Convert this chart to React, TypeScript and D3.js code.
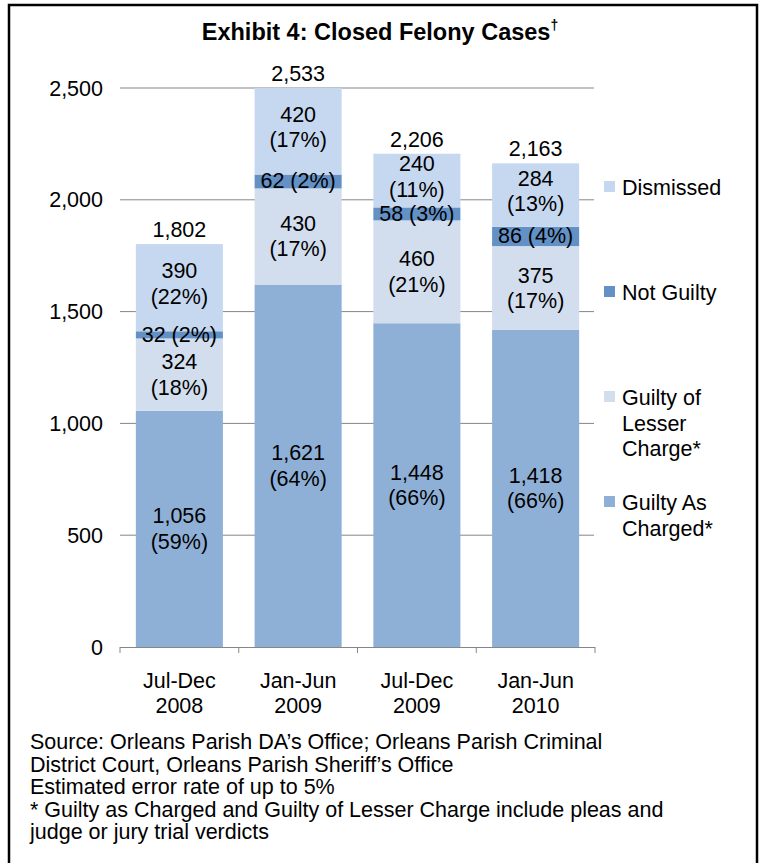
import React from "react";
import * as d3 from "d3";

const categories = ["Jul-Dec\n2008", "Jan-Jun\n2009", "Jul-Dec\n2009", "Jan-Jun\n2010"];
const seriesNames = ["Guilty As Charged*", "Guilty of Lesser Charge*", "Not Guilty", "Dismissed"];
const guiltyAsCharged = [1056, 1621, 1448, 1418];
const guiltyLesser = [324, 430, 460, 375];
const notGuilty = [32, 62, 58, 86];
const dismissed = [390, 420, 240, 284];
const pctAsCharged = ["59%", "64%", "66%", "66%"];
const pctLesser = ["18%", "17%", "21%", "17%"];
const pctNotGuilty = ["2%", "2%", "3%", "4%"];
const pctDismissed = ["22%", "17%", "11%", "13%"];
const totals = [1802, 2533, 2206, 2163];
const yTicks = [0, 500, 1000, 1500, 2000, 2500];
const footnotes = [
  "Source: Orleans Parish DA\u2019s Office; Orleans Parish Criminal",
  "District Court, Orleans Parish Sheriff\u2019s Office",
  "Estimated error rate of up to 5%",
  "* Guilty as Charged and Guilty of Lesser Charge include pleas and",
  "judge or jury trial verdicts",
];

const colors = ["#8EB0D7", "#D2DEEE", "#6391C6", "#C6D8F0"];
const FONT = "'Liberation Sans', Arial, sans-serif";
const FS = 21.5;

export default function App() {
  const x = d3
    .scaleBand<string>()
    .domain(categories)
    .range([120, 595])
    .paddingInner(0.267)
    .paddingOuter(0.1335);
  const y = d3.scaleLinear().domain([0, 2500]).range([647, 88]).clamp(true);
  const fmt = d3.format(",");

  const seriesVals = [guiltyAsCharged, guiltyLesser, notGuilty, dismissed];
  const seriesPct = [pctAsCharged, pctLesser, pctNotGuilty, pctDismissed];
  const rows = categories.map((c, i) => ({
    c,
    v0: guiltyAsCharged[i],
    v1: guiltyLesser[i],
    v2: notGuilty[i],
    v3: dismissed[i],
  }));
  const stack = d3.stack<any>().keys(["v0", "v1", "v2", "v3"]);
  const stacked = stack(rows);

  const legend = [
    { i: 3, lines: ["Dismissed"], y: 188 },
    { i: 2, lines: ["Not Guilty"], y: 293 },
    { i: 1, lines: ["Guilty of", "Lesser", "Charge*"], y: 398 },
    { i: 0, lines: ["Guilty As", "Charged*"], y: 503 },
  ];

  return (
    <svg
      width={760}
      height={863}
      style={{ position: "absolute", left: 0, top: 0, display: "block", background: "#fff" }}
      fontFamily={FONT}
    >
      <rect x={0} y={0} width={760} height={863} fill="#fff" />
      <rect x={9} y={5} width={748} height={870} fill="none" stroke="#000" strokeWidth={2.5} />
      <text x={380} y={40} textAnchor="middle" fontSize={23.5} fontWeight="bold">
        Exhibit 4: Closed Felony Cases
        <tspan fontSize={14} dy={-10}>{"\u2020"}</tspan>
      </text>

      {yTicks.map((t) => (
        <g key={t}>
          {t > 0 && (
            <line x1={120} x2={594} y1={y(t)} y2={y(t)} stroke="#868686" strokeWidth={1} />
          )}
          <text x={103} y={y(t) + 7.5} textAnchor="end" fontSize={FS}>
            {fmt(t)}
          </text>
        </g>
      ))}

      {stacked.map((s, si) => (
        <g key={si}>
          {s.map((d, ci) => (
            <rect
              key={ci}
              x={x(categories[ci])}
              width={x.bandwidth()}
              y={y(d[1])}
              height={y(d[0]) - y(d[1])}
              fill={colors[si]}
            />
          ))}
        </g>
      ))}

      {/* bottom axis */}
      <line x1={120} x2={595} y1={647.5} y2={647.5} stroke="#868686" />
      {[0, 1, 2, 3, 4].map((k) => {
        const px = 120 + k * x.step();
        return <line key={k} x1={px} x2={px} y1={647} y2={653} stroke="#868686" />;
      })}

      {/* segment labels */}
      {stacked.map((s, si) => (
        <g key={"l" + si}>
          {s.map((d, ci) => {
            const cx = (x(categories[ci]) as number) + x.bandwidth() / 2;
            const shift = si === 3 ? -4 : 0;
            const cy = (y(d[0]) + y(d[1])) / 2 + shift;
            const v = seriesVals[si][ci];
            const p = seriesPct[si][ci];
            if (si === 2) {
              return (
                <text key={ci} x={cx} y={cy + 7} textAnchor="middle" fontSize={FS}>
                  {`${fmt(v)} (${p})`}
                </text>
              );
            }
            return (
              <text key={ci} x={cx} textAnchor="middle" fontSize={FS}>
                <tspan x={cx} y={cy - 5.5}>{fmt(v)}</tspan>
                <tspan x={cx} y={cy + 20}>{`(${p})`}</tspan>
              </text>
            );
          })}
        </g>
      ))}

      {/* totals */}
      {totals.map((t, i) => (
        <text
          key={i}
          x={(x(categories[i]) as number) + x.bandwidth() / 2}
          y={y(t) - 7}
          textAnchor="middle"
          fontSize={FS}
        >
          {fmt(t)}
        </text>
      ))}

      {/* x labels */}
      {categories.map((c, i) => {
        const cx = (x(c) as number) + x.bandwidth() / 2;
        const parts = c.split("\n");
        return (
          <text key={i} x={cx} textAnchor="middle" fontSize={FS}>
            <tspan x={cx} y={688}>{parts[0]}</tspan>
            <tspan x={cx} y={713}>{parts[1]}</tspan>
          </text>
        );
      })}

      {/* legend */}
      {legend.map((l) => (
        <g key={l.i}>
          <rect x={604} y={l.y - 7} width={11} height={11} fill={colors[l.i]} />
          <text fontSize={FS}>
            {l.lines.map((ln, k) => (
              <tspan key={k} x={622} y={l.y + 7 + k * 25.5}>
                {ln}
              </tspan>
            ))}
          </text>
        </g>
      ))}
      <text fontSize={FS}>
        {footnotes.map((f, k) => (
          <tspan key={k} x={30} y={749 + k * 22.5}>
            {f}
          </tspan>
        ))}
      </text>
      <g style={{ display: "none" }}>{seriesNames.join(",")}</g>
    </svg>
  );
}
